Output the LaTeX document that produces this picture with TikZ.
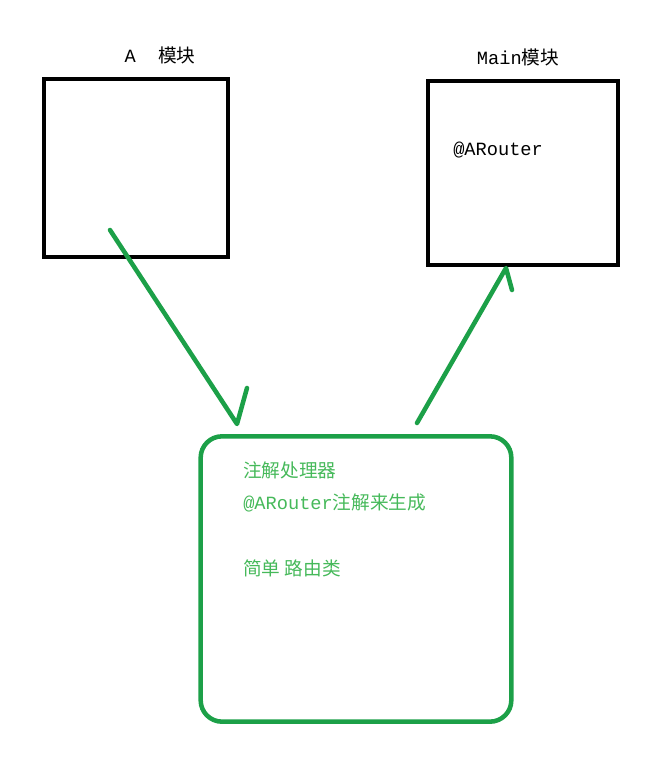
\documentclass[tikz,border=0pt]{standalone}
\usepackage{fontspec}
\setmainfont{Liberation Mono}
\newfontfamily\cjk{Noto Sans CJK SC}
\definecolor{gline}{RGB}{28,160,72}
\definecolor{gtext}{RGB}{70,185,90}
\begin{document}
\begin{tikzpicture}[x=0.75pt,y=-0.75pt,
  blk/.style={draw=black,line width=3pt},
  garrow/.style={draw=gline,line width=3.4pt,line cap=round,line join=round},
  lbl/.style={font=\fontsize{14}{16}\selectfont,inner sep=0pt},
  gl/.style={lbl,text=gtext,anchor=west}]
\useasboundingbox (0,0) rectangle (664,761);
\node[blk,minimum width=138pt,minimum height=133pt,inner sep=0pt] (A) at (135.5,168) {};
\node[blk,minimum width=142pt,minimum height=138pt,inner sep=0pt] (M) at (523,172.5) {};
\node[draw=gline,line width=3.4pt,rounded corners=16pt,minimum width=233pt,minimum height=214pt,inner sep=0pt] (P) at (356,579) {};
\node[lbl] (tA) at (160,55) {A\hspace{1.2em}{\cjk 模块}};
\node[lbl] (tM) at (518,57) {Main{\cjk 模块}};
\node[lbl,anchor=west] (tR) at (453,150) {@ARouter};
\node[gl] (t1) at (243,470) {\cjk 注解处理器};
\node[gl] (t2) at (243,503) {@ARouter{\cjk 注解来生成}};
\node[gl] (t3) at (243,568) {\cjk 简单 路由类};
\coordinate (a1s) at (110,230);
\coordinate (a1e) at (237,424);
\coordinate (a1b) at (247,388);
\coordinate (a2s) at (417,423);
\coordinate (a2e) at (506,268);
\coordinate (a2b) at (512,290);
\draw[garrow] (a1s) -- (a1e) -- (a1b);
\draw[garrow] (a2s) -- (a2e) -- (a2b);
\end{tikzpicture}
\end{document}
